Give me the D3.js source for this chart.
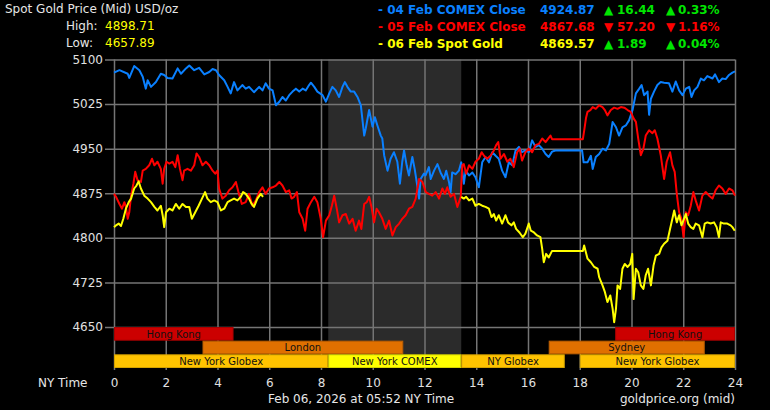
<!DOCTYPE html>
<html>
<head>
<meta charset="utf-8">
<script src="https://cdn.jsdelivr.net/npm/d3@7"></script>
<style>
  body { margin: 0; background: #000; }
  svg { display: block; font-family: "DejaVu Sans", Verdana, sans-serif; }
</style>
</head>
<body>
<div id="chart"></div>
<script>
// datos: [hora NY, precio]
const comexFeb04 = [[0,5078],[0.21,5082],[0.53,5076],[0.59,5069],[0.78,5089],[0.98,5082],[1.11,5071],[1.23,5051],[1.30,5065],[1.43,5054],[1.62,5062],[1.81,5076],[1.94,5074],[2.07,5069],[2.26,5068],[2.46,5085],[2.59,5076],[2.78,5085],[2.91,5090],[3.10,5082],[3.29,5086],[3.49,5075],[3.68,5079],[3.81,5084],[3.94,5082],[4.06,5074],[4.26,5065],[4.39,5054],[4.51,5043],[4.64,5062],[4.77,5048],[4.96,5057],[5.09,5051],[5.22,5054],[5.41,5045],[5.61,5054],[5.74,5048],[5.86,5060],[5.99,5051],
  [6.13,5048],[6.26,5023],[6.39,5029],[6.51,5037],[6.64,5031],[6.77,5040],[6.90,5046],[7.03,5051],[7.16,5046],[7.29,5051],[7.41,5048],[7.54,5057],[7.61,5061],[7.74,5054],[7.86,5046],[8.06,5040],[8.19,5029],[8.32,5043],[8.44,5054],[8.57,5048],[8.70,5037],[8.83,5054],[8.92,5062],[9.02,5054],[9.15,5046],[9.28,5046],[9.41,5037],[9.54,5023],[9.67,4972],[9.73,4984],[9.86,5015],[9.99,4987],[10.08,5003],[10.18,4989],[10.31,4972],[10.37,4967],[10.44,4939],[10.57,4913],[10.69,4933],[10.82,4944],[10.95,4928],[11.05,4891],[11.14,4928],[11.21,4947],[11.31,4922],[11.40,4905],[11.53,4936],[11.62,4916],[11.72,4888],[11.79,4866],[11.85,4899],[11.98,4908],
  [12.04,4905],[12.17,4919],[12.24,4899],[12.37,4913],[12.50,4924],[12.62,4910],[12.75,4899],[12.84,4913],[12.95,4893],[13.01,4877],[13.07,4910],[13.20,4907],[13.33,4913],[13.42,4927],[13.52,4891],[13.59,4913],[13.72,4905],[13.85,4910],[13.97,4902],[14.10,4885],[14.23,4927],[14.36,4936],[14.49,4927],[14.62,4944],[14.75,4938],[14.87,4933],[15.00,4913],[15.13,4902],[15.26,4927],[15.39,4922],[15.52,4947],[15.65,4953],[15.77,4944],[15.90,4947],[16.03,4944],[16.16,4964],[16.29,4953],[16.42,4956],[16.55,4950],[16.68,4941],[16.80,4936],[16.93,4945],[17.06,4947],[18.09,4947],
  [18.15,4927],[18.30,4927],[18.43,4938],[18.50,4916],[18.62,4936],[18.75,4941],[18.88,4950],[19.01,4947],[19.14,4958],[19.27,4995],[19.40,4986],[19.52,4972],[19.65,4986],[19.78,4989],[19.91,4998],[20.04,5015],[20.17,5043],[20.30,5051],[20.39,5057],[20.49,5040],[20.62,5046],[20.68,5007],[20.75,5034],[20.87,5046],[21.00,5057],[21.13,5062],[21.26,5061],[21.45,5060],[21.58,5046],[21.71,5063],[21.84,5048],[21.97,5040],[22.10,5051],[22.23,5054],[22.32,5037],[22.42,5048],[22.55,5054],[22.68,5068],[22.80,5065],[22.93,5072],[23.13,5068],[23.23,5075],[23.38,5062],[23.51,5068],[23.64,5067],[23.77,5074],[23.90,5078],[24.00,5080]];

const comexFeb05 = [[0,4874],[0.08,4869],[0.21,4857],[0.31,4849],[0.40,4860],[0.46,4852],[0.53,4832],[0.59,4843],[0.66,4871],[0.75,4891],[0.82,4911],[0.91,4897],[1.04,4894],[1.11,4913],[1.23,4916],[1.36,4922],[1.47,4933],[1.56,4922],[1.68,4928],[1.81,4916],[1.88,4891],[1.94,4916],[2.03,4928],[2.14,4925],[2.26,4928],[2.37,4919],[2.46,4939],[2.55,4916],[2.65,4897],[2.71,4913],[2.84,4916],[2.97,4913],[3.10,4922],[3.19,4942],[3.29,4936],[3.42,4922],[3.55,4928],[3.68,4922],[3.81,4913],[3.91,4908],[4.00,4913],[4.06,4883],[4.19,4866],[4.32,4871],[4.45,4880],[4.58,4885],[4.71,4894],[4.81,4877],[4.94,4857],[5.09,4860],[5.22,4874],[5.35,4854],[5.48,4863],[5.61,4877],[5.74,4885],[5.86,4874],[5.99,4883],
  [6.13,4885],[6.26,4888],[6.39,4894],[6.51,4888],[6.64,4877],[6.77,4880],[6.86,4866],[6.96,4869],[7.07,4877],[7.16,4843],[7.29,4832],[7.39,4812],[7.48,4849],[7.61,4860],[7.74,4869],[7.86,4860],[7.99,4832],[8.08,4801],[8.19,4829],[8.32,4838],[8.42,4854],[8.51,4871],[8.61,4849],[8.70,4826],[8.83,4838],[8.96,4840],[9.09,4824],[9.22,4832],[9.34,4812],[9.47,4829],[9.56,4815],[9.67,4857],[9.77,4860],[9.86,4869],[9.95,4852],[10.05,4826],[10.15,4849],[10.24,4843],[10.37,4832],[10.50,4815],[10.63,4829],[10.76,4804],[10.89,4818],[11.02,4824],[11.14,4832],[11.27,4838],[11.40,4849],[11.53,4852],[11.66,4866],[11.79,4899],[11.92,4894],[12.05,4877],
  [12.17,4874],[12.30,4871],[12.43,4877],[12.56,4866],[12.69,4883],[12.79,4874],[12.88,4885],[13.01,4869],[13.14,4874],[13.27,4852],[13.40,4869],[13.46,4922],[13.52,4924],[13.61,4908],[13.72,4922],[13.85,4916],[13.97,4928],[14.10,4933],[14.21,4944],[14.30,4938],[14.42,4933],[14.55,4938],[14.68,4947],[14.77,4956],[14.85,4961],[14.94,4933],[15.07,4941],[15.20,4928],[15.32,4933],[15.45,4919],[15.58,4944],[15.68,4950],[15.77,4930],[15.90,4944],[16.03,4950],[16.16,4944],[16.29,4956],[16.42,4958],[16.55,4967],[16.68,4961],[16.78,4967],[16.87,4972],[16.93,4966],[18.12,4966],
  [18.17,4980],[18.24,5001],[18.30,5012],[18.41,5015],[18.50,5020],[18.62,5017],[18.75,5023],[18.88,5020],[18.97,5015],[19.07,5006],[19.20,5015],[19.33,5019],[19.46,5017],[19.59,5020],[19.72,5019],[19.85,5015],[19.97,5012],[20.08,5001],[20.17,4995],[20.26,4967],[20.36,4939],[20.46,4950],[20.55,4972],[20.68,4981],[20.81,4976],[20.90,4981],[21.00,4967],[21.13,4939],[21.26,4899],[21.36,4928],[21.49,4944],[21.58,4922],[21.67,4911],[21.75,4874],[21.84,4843],[21.93,4832],[22.01,4801],[22.10,4843],[22.19,4838],[22.29,4854],[22.39,4877],[22.48,4863],[22.61,4846],[22.74,4871],[22.87,4877],[23.00,4871],[23.13,4866],[23.25,4880],[23.38,4888],[23.51,4883],[23.64,4874],[23.77,4883],[23.90,4880],[24.00,4871]];

// el spot del dia tiene un hueco entre ~5:45 y 13:25
const spotFeb06Early = [[0,4818],[0.08,4821],[0.18,4824],[0.27,4820],[0.36,4832],[0.46,4849],[0.57,4860],[0.66,4866],[0.78,4883],[0.87,4888],[0.95,4895],[1.04,4883],[1.17,4871],[1.30,4866],[1.43,4860],[1.56,4852],[1.68,4846],[1.81,4854],[1.88,4838],[1.94,4818],[2.01,4843],[2.14,4849],[2.26,4846],[2.39,4857],[2.52,4849],[2.65,4857],[2.78,4852],[2.91,4852],[3.01,4832],[3.14,4843],[3.27,4854],[3.40,4866],[3.52,4877],[3.61,4866],[3.74,4860],[3.87,4863],[4.00,4860],[4.13,4846],[4.26,4849],[4.39,4860],[4.51,4863],[4.64,4866],[4.77,4863],[4.90,4869],[4.99,4877],[5.09,4874],[5.22,4866],[5.32,4857],[5.41,4852],[5.54,4866],[5.67,4874],[5.76,4869]];

const spotFeb06Late = [[13.42,4869],[13.52,4866],[13.61,4869],[13.72,4863],[13.85,4866],[13.97,4854],[14.10,4857],[14.23,4854],[14.36,4852],[14.49,4849],[14.59,4835],[14.68,4840],[14.77,4829],[14.87,4838],[15.00,4824],[15.13,4838],[15.23,4826],[15.36,4821],[15.45,4826],[15.54,4815],[15.67,4809],[15.80,4801],[15.90,4807],[16.03,4824],[16.11,4812],[16.23,4809],[16.35,4804],[16.48,4801],[16.55,4781],[16.61,4759],[16.70,4773],[16.80,4767],[16.93,4778],[18.12,4778],
  [18.17,4787],[18.30,4765],[18.43,4759],[18.56,4751],[18.69,4748],[18.75,4734],[18.88,4720],[18.97,4709],[19.07,4692],[19.18,4703],[19.27,4681],[19.33,4658],[19.40,4681],[19.46,4720],[19.56,4714],[19.65,4748],[19.74,4756],[19.85,4751],[19.95,4756],[20.03,4773],[20.08,4697],[20.17,4748],[20.26,4742],[20.36,4720],[20.46,4714],[20.55,4737],[20.64,4748],[20.75,4720],[20.85,4753],[20.94,4770],[21.07,4773],[21.16,4784],[21.26,4790],[21.39,4795],[21.49,4815],[21.58,4832],[21.65,4846],[21.75,4826],[21.84,4838],[21.93,4821],[22.03,4832],[22.10,4840],[22.19,4824],[22.29,4818],[22.39,4815],[22.48,4824],[22.61,4821],[22.74,4801],[22.83,4824],[22.93,4826],[23.06,4824],[23.19,4826],[23.29,4818],[23.38,4801],[23.45,4826],[23.57,4824],[23.70,4824],[23.83,4821],[23.90,4818],[23.99,4812]];

// sesiones de mercado (fila, hora inicio, hora fin)
const sessions = [
  { market: "Hong Kong", row: 0, start: 0, end: 4.62 },
  { market: "Hong Kong", row: 0, start: 19.37, end: 24 },
  { market: "London", row: 1, start: 3.42, end: 11.18 },
  { market: "Sydney", row: 1, start: 16.8, end: 22.83 },
  { market: "New York Globex", row: 2, start: 0, end: 8.28 },
  { market: "New York COMEX", row: 2, start: 8.28, end: 13.42 },
  { market: "NY Globex", row: 2, start: 13.42, end: 17.42 },
  { market: "New York Globex", row: 2, start: 18, end: 24 }
];

const hourTicks = [0, 2, 4, 6, 8, 10, 12, 14, 16, 18, 20, 22, 24];
const priceTicks = [4650, 4725, 4800, 4875, 4950, 5025, 5100];

const legendLabels = ["- 04 Feb COMEX Close", "- 05 Feb COMEX Close", "- 06 Feb Spot Gold"];
const legendPrices = [4924.87, 4867.68, 4869.57];
const legendChanges = [16.44, -57.20, 1.89];
const legendPercents = [0.33, -1.16, 0.04];
const highLowLabels = ["High:", "Low:"];
const highLowValues = [4898.71, 4657.89];

// colores
const seriesColors = ["#0a80ff", "#ff0000", "#ffff00"];
const sessionColors = {
  "Hong Kong": "#cc0000", "London": "#e07000", "Sydney": "#e07000",
  "New York Globex": "#ffc300", "NY Globex": "#ffc300", "New York COMEX": "#ffff00"
};
const upColor = "#00e600", downColor = "#ff0000";

const W = 770, H = 410;
const plotL = 114, plotR = 735, plotT = 59.5, plotB = 327, sessB = 368;

const svg = d3.select("#chart").append("svg")
  .attr("width", W).attr("height", H);
svg.append("rect").attr("width", W).attr("height", H).attr("fill", "#000");

const x = d3.scaleLinear().domain([0, 24]).range([plotL, plotR]);
const y = d3.scaleLinear().domain([4650, 5100]).range([plotB, plotT]);
const row = d3.scaleBand().domain([0, 1, 2]).range([plotB, sessB]);

// zona gris del COMEX
const comex = sessions.find(s => s.market === "New York COMEX");
svg.append("rect")
  .attr("x", x(comex.start)).attr("y", plotT)
  .attr("width", x(comex.end) - x(comex.start))
  .attr("height", sessB - plotT)
  .attr("fill", "#2b2b2b");

// grilla horizontal + etiquetas de precio
const yAxis = svg.append("g")
  .attr("transform", `translate(${plotL - 9},0)`)
  .call(d3.axisLeft(y).tickValues(priceTicks).tickSize(-(plotR - plotL + 9)).tickPadding(2).tickFormat(d3.format("d")));
yAxis.select(".domain").remove();
yAxis.selectAll("line").attr("stroke", "#757575").attr("stroke-width", 1.5);
yAxis.selectAll("text").attr("fill", "#e0e0e0").style("font-size", "12px")
  .style("font-family", "DejaVu Sans, Verdana, sans-serif");

// grilla vertical + horas
const xAxis = svg.append("g")
  .attr("transform", `translate(0,${sessB + 2})`)
  .call(d3.axisBottom(x).tickValues(hourTicks).tickSize(-(sessB + 2 - plotT)).tickPadding(8));
xAxis.select(".domain").remove();
xAxis.selectAll("line").attr("stroke", "#757575").attr("stroke-width", 1.5);
xAxis.selectAll("text").attr("fill", "#e0e0e0").style("font-size", "12px")
  .style("font-family", "DejaVu Sans, Verdana, sans-serif");

// barras de sesiones
svg.selectAll("rect.sess")
  .data(sessions)
  .join("rect")
  .attr("class", "sess")
  .attr("x", d => x(d.start) + 0.5)
  .attr("y", d => row(d.row) + 0.5)
  .attr("width", d => x(d.end) - x(d.start) - 1)
  .attr("height", row.bandwidth() - 1)
  .attr("fill", d => sessionColors[d.market])
  .attr("stroke", d => d3.color(sessionColors[d.market]).darker(0.5))
  .attr("stroke-width", 1);

svg.selectAll("text.sess")
  .data(sessions)
  .join("text")
  .attr("class", "sess")
  .attr("x", d => (x(d.start) + x(d.end)) / 2)
  .attr("y", d => row(d.row) + row.bandwidth() / 2 + 3.8)
  .attr("text-anchor", "middle")
  .attr("fill", "#111")
  .style("font-size", "10px")
  .text(d => d.market);

// lineas de precio
const line = d3.line().x(d => x(d[0])).y(d => y(d[1]));
const allSeries = [
  { data: comexFeb04, color: seriesColors[0] },
  { data: comexFeb05, color: seriesColors[1] },
  { data: spotFeb06Early, color: seriesColors[2] },
  { data: spotFeb06Late, color: seriesColors[2] }
];
svg.selectAll("path.price")
  .data(allSeries)
  .join("path")
  .attr("class", "price")
  .attr("fill", "none")
  .attr("stroke", d => d.color)
  .attr("stroke-width", 2)
  .attr("stroke-linejoin", "round")
  .attr("d", d => line(d.data));

// encabezado izquierdo
svg.append("text").attr("x", 5).attr("y", 13).attr("fill", "#e6e6e6")
  .style("font-size", "12px").text("Spot Gold Price (Mid) USD/oz");
highLowLabels.forEach((l, i) => {
  svg.append("text").attr("x", 66).attr("y", 30 + i * 17).attr("fill", "#e6e6e6")
    .style("font-size", "12px").text(l);
  svg.append("text").attr("x", 105).attr("y", 30 + i * 17).attr("fill", "#ffff00")
    .style("font-size", "12px").text(d3.format(".2f")(highLowValues[i]));
});

// leyenda derecha
const f2 = d3.format(".2f");
legendLabels.forEach((l, i) => {
  const yy = 14 + i * 16.8;
  const c = legendChanges[i] >= 0 ? upColor : downColor;
  const arrow = legendChanges[i] >= 0 ? "▲" : "▼";
  const g = svg.append("g").style("font-size", "12px").style("font-weight", "bold");
  g.append("text").attr("x", 378).attr("y", yy).attr("fill", seriesColors[i]).text(l);
  g.append("text").attr("x", 540).attr("y", yy).attr("fill", seriesColors[i]).text(f2(legendPrices[i]));
  g.append("text").attr("x", 604).attr("y", yy).attr("fill", c).style("font-size", "12px").text(arrow);
  g.append("text").attr("x", 617).attr("y", yy).attr("fill", c).text(f2(Math.abs(legendChanges[i])));
  g.append("text").attr("x", 666).attr("y", yy).attr("fill", c).style("font-size", "12px").text(arrow);
  g.append("text").attr("x", 678).attr("y", yy).attr("fill", c).text(f2(Math.abs(legendPercents[i])) + "%");
});

// pie
svg.append("text").attr("x", 38).attr("y", 387).attr("fill", "#e6e6e6")
  .style("font-size", "12px").text("NY Time");
svg.append("text").attr("x", 268).attr("y", 403).attr("fill", "#e6e6e6")
  .style("font-size", "12px").text("Feb 06, 2026 at 05:52 NY Time");
svg.append("text").attr("x", 735).attr("y", 403).attr("text-anchor", "end").attr("fill", "#e6e6e6")
  .style("font-size", "12px").text("goldprice.org (mid)");
</script>
</body>
</html>
